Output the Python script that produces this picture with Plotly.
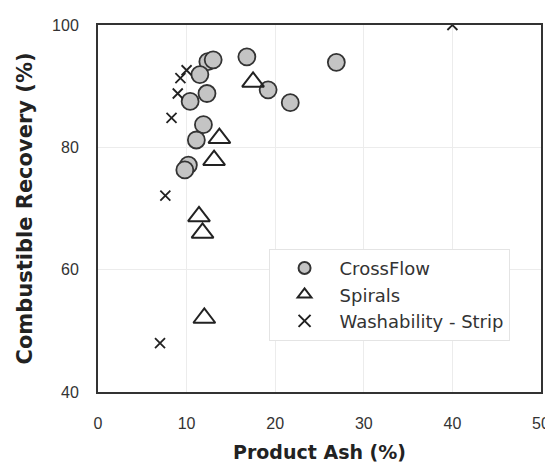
import plotly.graph_objects as go

crossflow_ash = [16.8, 19.2, 21.7, 26.9, 12.4, 13.0, 11.5, 12.3, 10.4, 11.9, 11.1, 10.2, 9.8]
crossflow_rec = [94.8, 89.4, 87.3, 93.9, 94.0, 94.3, 91.9, 88.8, 87.5, 83.7, 81.2, 77.1, 76.3]

spirals_ash = [17.5, 13.7, 13.1, 11.4, 11.8, 12.0]
spirals_rec = [90.7, 81.5, 77.9, 68.7, 66.0, 52.1]

wash_ash = [40.0, 10.0, 9.3, 9.0, 8.3, 7.6, 7.0]
wash_rec = [100.0, 92.6, 91.3, 88.8, 84.8, 72.1, 48.0]

x_ticks = [0, 10, 20, 30, 40, 50]
y_ticks = [40, 60, 80, 100]

fig = go.Figure()
fig.add_trace(go.Scatter(
    x=crossflow_ash, y=crossflow_rec, mode="markers", name="CrossFlow",
    marker=dict(symbol="circle", size=17, color="#c4c4c4",
                line=dict(color="#333333", width=1.8)),
))
fig.add_trace(go.Scatter(
    x=spirals_ash, y=spirals_rec, mode="markers", name="Spirals",
    marker=dict(symbol="triangle-up-open", size=19, color="#222222",
                line=dict(color="#222222", width=2)),
))
fig.add_trace(go.Scatter(
    x=wash_ash, y=wash_rec, mode="markers", name="Washability - Strip",
    marker=dict(symbol="x-thin-open", size=10, color="#222222",
                line=dict(color="#222222", width=1.8)),
))

axis_common = dict(
    showline=True, linecolor="#333333", linewidth=2, mirror=True,
    ticks="", showgrid=True, gridcolor="#ececec", gridwidth=1,
    zeroline=False, automargin=False,
    tickfont=dict(family="Liberation Sans, Arial, sans-serif", size=16, color="#333333"),
)

fig.update_layout(
    width=553, height=466,
    margin=dict(l=90, r=20, t=17, b=82),
    paper_bgcolor="white", plot_bgcolor="white",
    font=dict(family="Liberation Sans, Arial, sans-serif", color="#222222"),
    xaxis=dict(range=[0, 50], tickvals=x_ticks, ticklabelstandoff=16,
               title=dict(text="<b>Product Ash (%)</b>",
                          font=dict(family="DejaVu Sans, sans-serif", size=19), standoff=14),
               **axis_common),
    yaxis=dict(range=[40, 100], tickvals=y_ticks, ticklabelstandoff=14,
               title=dict(text="<b>Combustible Recovery (%)</b>",
                          font=dict(family="DejaVu Sans, sans-serif", size=21), standoff=14),
               **axis_common),
    showlegend=True,
    legend=dict(x=0.385, y=0.39, xanchor="left", yanchor="top",
                bgcolor="white", bordercolor="#e4e4e4", borderwidth=1,
                font=dict(family="DejaVu Sans, sans-serif", size=18, color="#333333"),
                itemsizing="constant", itemwidth=60, tracegroupgap=0),
)

fig.write_html("out.html")
